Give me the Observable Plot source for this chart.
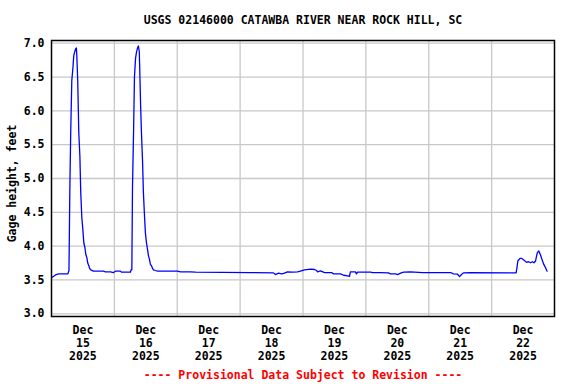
<!DOCTYPE html>
<html>
<head>
<meta charset="utf-8">
<script src="https://cdn.jsdelivr.net/npm/d3@7"></script>
<script src="https://cdn.jsdelivr.net/npm/@observablehq/plot@0.6"></script>
<style>
  html, body { margin: 0; padding: 0; background: #fff; }
</style>
</head>
<body>
<div id="chart"></div>
<script>
const title = "USGS 02146000 CATAWBA RIVER NEAR ROCK HILL, SC";
const yLabel = "Gage height, feet";
const caption = "---- Provisional Data Subject to Revision ----";

const times = [
  "12-15T00:15","12-15T01:00","12-15T01:45","12-15T02:45","12-15T06:15","12-15T06:40",
  "12-15T07:00","12-15T07:20","12-15T07:45","12-15T08:10","12-15T08:30","12-15T08:55","12-15T09:15","12-15T09:30",
  "12-15T09:40","12-15T10:00","12-15T10:25","12-15T10:50","12-15T11:10","12-15T11:35","12-15T11:55","12-15T12:20",
  "12-15T12:45","12-15T13:05","12-15T13:30","12-15T13:50","12-15T14:15","12-15T14:35","12-15T15:00","12-15T16:00",
  "12-15T19:50","12-15T20:35","12-15T22:30","12-15T23:40","12-16T00:25","12-16T02:20","12-16T02:40","12-16T06:10",
  "12-16T06:20","12-16T06:40",
  "12-16T06:55","12-16T07:20","12-16T07:40","12-16T08:05","12-16T08:25","12-16T08:50","12-16T09:10","12-16T09:30",
  "12-16T09:40","12-16T10:00","12-16T10:20","12-16T10:45","12-16T11:05","12-16T11:30","12-16T11:50","12-16T12:15",
  "12-16T12:40","12-16T13:00","12-16T13:25","12-16T13:45","12-16T14:10","12-16T14:35","12-16T14:55","12-16T15:40",
  "12-16T16:30","12-17T00:05","12-17T01:15","12-17T05:00","12-17T07:00","12-18T04:00",
  "12-18T12:45","12-18T13:30","12-18T14:40","12-18T15:50","12-18T16:55","12-18T18:05","12-18T20:00","12-18T21:55",
  "12-18T23:00","12-19T00:35","12-19T02:55","12-19T04:25","12-19T05:10","12-19T05:35","12-19T06:40","12-19T08:15",
  "12-19T10:55","12-19T11:40","12-19T14:20","12-19T15:30","12-19T17:00","12-19T17:45","12-19T18:05","12-19T20:00",
  "12-19T20:25","12-19T20:50","12-20T01:50","12-20T02:30","12-20T05:35","12-20T08:35","12-20T09:25","12-20T11:20",
  "12-20T12:05","12-20T13:15","12-20T14:25","12-20T17:00","12-20T21:35","12-21T08:20","12-21T09:25","12-21T11:00",
  "12-21T11:45","12-21T12:30","12-21T13:15","12-21T16:00","12-22T09:20","12-22T09:40","12-22T10:00","12-22T10:50",
  "12-22T11:25","12-22T12:10","12-22T13:20","12-22T14:05","12-22T14:50","12-22T15:35","12-22T16:10","12-22T16:45",
  "12-22T17:25","12-22T18:00","12-22T18:40","12-22T19:20","12-22T19:55","12-22T20:35","12-22T21:10"
];
const heights = [
  3.54,3.56,3.58,3.59,3.59,3.64,
  4.84,5.68,6.45,6.63,6.82,6.88,6.92,6.93,
  6.81,6.46,5.68,5.33,4.79,4.42,4.27,4.05,
  3.98,3.88,3.83,3.75,3.71,3.67,3.65,3.63,
  3.63,3.62,3.62,3.61,3.63,3.63,3.615,3.615,
  3.65,3.65,
  4.88,5.71,6.50,6.78,6.86,6.93,6.96,6.88,
  6.64,6.10,5.68,5.26,4.79,4.45,4.20,4.05,
  3.95,3.86,3.80,3.73,3.71,3.67,3.65,3.64,
  3.63,3.63,3.62,3.62,3.615,3.61,
  3.605,3.58,3.60,3.59,3.60,3.62,3.615,3.62,
  3.63,3.65,3.66,3.655,3.64,3.62,3.635,3.61,
  3.61,3.59,3.59,3.57,3.56,3.555,3.62,3.62,
  3.59,3.615,3.615,3.61,3.61,3.605,3.59,3.59,
  3.58,3.60,3.615,3.62,3.61,3.61,3.59,3.585,
  3.55,3.58,3.605,3.61,3.605,3.68,3.78,3.82,
  3.82,3.80,3.76,3.77,3.755,3.77,3.755,3.78,
  3.90,3.93,3.87,3.79,3.73,3.68,3.63
];
const yTicks = [3.0, 3.5, 4.0, 4.5, 5.0, 5.5, 6.0, 6.5, 7.0];
const dayLabels = ["15", "16", "17", "18", "19", "20", "21", "22"];
const monthLabel = "Dec";
const yearLabel = "2025";

const data = times.map((t, i) => ({ date: new Date(`2025-${t}:00Z`), value: heights[i] }));
const dayStart = dayLabels.map(d => new Date(`2025-12-${d}T00:00:00Z`));
const dayNoon = dayLabels.map(d => new Date(`2025-12-${d}T12:00:00Z`));
const domainEnd = new Date("2025-12-23T00:00:00Z");

const font = "'DejaVu Sans Mono', monospace";

const chart = Plot.plot({
  width: 576,
  height: 384,
  marginLeft: 51,
  marginRight: 22,
  marginTop: 40,
  marginBottom: 68,
  style: { fontFamily: font, fontSize: "11.5px", fontWeight: "bold", background: "#fff", color: "#000" },
  x: { type: "utc", domain: [dayStart[0], domainEnd] },
  y: { domain: [2.96, 7.04] },
  marks: [
    Plot.gridY(yTicks, { stroke: "#c8c8c8", strokeOpacity: 1, strokeWidth: 1.3 }),
    Plot.gridX(dayStart.slice(1), { stroke: "#c8c8c8", strokeOpacity: 1, strokeWidth: 1.3 }),
    Plot.line(data, { x: "date", y: "value", stroke: "#0000ff", strokeWidth: 1.3 }),
    Plot.frame({ stroke: "#000", strokeWidth: 1.5 }),
    Plot.axisY(yTicks, { tickSize: 0, tickPadding: 7, tickFormat: d => d.toFixed(1), label: null, fontSize: 11.5, fontWeight: "bold" }),
    Plot.axisX(dayNoon, {
      tickSize: 0, tickPadding: 8, label: null, lineHeight: 1.13, fontSize: 11.5, fontWeight: "bold",
      tickFormat: (d, i) => `${monthLabel}\n${dayLabels[i]}\n${yearLabel}`
    }),
    Plot.text([title], { frameAnchor: "top", lineAnchor: "middle", dy: -20, fontSize: 11.5, fontWeight: "bold", fill: "#000" }),
    Plot.text([yLabel], { frameAnchor: "left", textAnchor: "middle", lineAnchor: "middle", dx: -39, dy: 5, rotate: -90, fontSize: 11.5, fontWeight: "bold", fill: "#000" }),
    Plot.text([caption], { frameAnchor: "bottom", lineAnchor: "middle", dy: 59, fontSize: 11.5, fontWeight: "bold", fill: "#ff0000" })
  ]
});
document.getElementById("chart").appendChild(chart);
</script>
</body>
</html>
